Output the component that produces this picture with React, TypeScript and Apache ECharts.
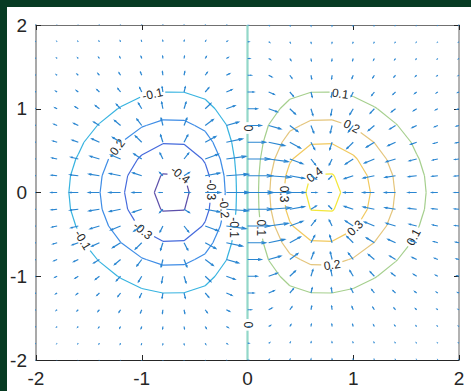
import React, { useEffect, useRef } from "react";
import * as echarts from "echarts";

// ---- data ----
// sample grid (meshgrid -2:0.2:2)
const gridX = [-2, -1.8, -1.6, -1.4, -1.2, -1, -0.8, -0.6, -0.4, -0.2, 0, 0.2, 0.4, 0.6, 0.8, 1, 1.2, 1.4, 1.6, 1.8, 2];
const gridY = [-2, -1.8, -1.6, -1.4, -1.2, -1, -0.8, -0.6, -0.4, -0.2, 0, 0.2, 0.4, 0.6, 0.8, 1, 1.2, 1.4, 1.6, 1.8, 2];
// sampled surface z = x * exp(-x^2 - y^2)
const surface = (x: number, y: number) => x * Math.exp(-x * x - y * y);
// contour levels
const contourLevels = [-0.4, -0.3, -0.2, -0.1, 0, 0.1, 0.2, 0.3, 0.4];
// axis tick values
const axisTicks = [-2, -1, 0, 1, 2];
// contour label texts with their level and anchor (data coords)
const labelLevel = [-0.1, -0.2, -0.4, -0.3, -0.3, -0.1, -0.2, -0.1, 0, 0, 0.1, 0.2, 0.4, 0.3, 0.3, 0.2, 0.1, 0.1];
const labelText = ["-0.1", "-0.2", "-0.4", "-0.3", "-0.3", "-0.1", "-0.2", "-0.1", "0", "0", "0.1", "0.2", "0.4", "0.3", "0.3", "0.2", "0.1", "0.1"];
const labelX = [-0.894, -1.225, -0.638, -0.355, -0.988, -1.556, -0.213, -0.115, 0, 0, 0.875, 0.98, 0.638, 0.345, 1.017, 0.8, 1.565, 0.118];
const labelY = [1.152, 0.507, 0.149, 0.03, -0.448, -0.567, -0.185, -0.42, 0.77, -1.58, 1.164, 0.77, 0.149, -0.02, -0.424, -0.866, -0.53, -0.424];

// ---- styles ----
const levelColors = ["#5d50aa", "#4469dc", "#3d8ce6", "#36b3e0", "#93d8c9", "#a5cf8d", "#e4c57c", "#f1c95e", "#f3e73a"];
const labelRot = [12, 52, -38, -90, -39, -59, -85, -90, -90, -90, -8, -27, 38, -90, 45, 9, 62, -90];
const FONT = "'Liberation Sans', Arial, Helvetica, sans-serif";
const PLOT_W = 423;
const PLOT_H = 335;
const SX = PLOT_W / 4;
const SY = PLOT_H / 4;

type Pt = [number, number];

function buildZ(): number[][] {
  return gridY.map((y) => gridX.map((x) => surface(x, y)));
}

function contourSegments(Z: number[][], level: number): [Pt, Pt][] {
  const segs: [Pt, Pt][] = [];
  for (let j = 0; j < gridY.length - 1; j++) {
    for (let i = 0; i < gridX.length - 1; i++) {
      const c = [
        { x: gridX[i], y: gridY[j], z: Z[j][i] },
        { x: gridX[i + 1], y: gridY[j], z: Z[j][i + 1] },
        { x: gridX[i + 1], y: gridY[j + 1], z: Z[j + 1][i + 1] },
        { x: gridX[i], y: gridY[j + 1], z: Z[j + 1][i] },
      ];
      const pts: (Pt | null)[] = [];
      for (let e = 0; e < 4; e++) {
        const a = c[e];
        const b = c[(e + 1) % 4];
        if (a.z > level !== b.z > level) {
          const t = (level - a.z) / (b.z - a.z);
          pts.push([a.x + t * (b.x - a.x), a.y + t * (b.y - a.y)]);
        } else pts.push(null);
      }
      const found = pts.filter((p) => p) as Pt[];
      if (found.length === 2) segs.push([found[0], found[1]]);
      else if (found.length === 4) {
        const center = (c[0].z + c[1].z + c[2].z + c[3].z) / 4;
        if (center > level === c[0].z > level) {
          segs.push([pts[0]!, pts[1]!]);
          segs.push([pts[2]!, pts[3]!]);
        } else {
          segs.push([pts[3]!, pts[0]!]);
          segs.push([pts[1]!, pts[2]!]);
        }
      }
    }
  }
  return segs;
}

function nearestOnSegs(segs: [Pt, Pt][], x: number, y: number): Pt {
  let best: Pt = [x, y];
  let bestD = Infinity;
  for (const [p, q] of segs) {
    const dx = (q[0] - p[0]) * SX;
    const dy = (q[1] - p[1]) * SY;
    const L = dx * dx + dy * dy;
    let t = L > 0 ? (((x - p[0]) * SX) * dx + ((y - p[1]) * SY) * dy) / L : 0;
    t = Math.max(0, Math.min(1, t));
    const cx = p[0] + t * (q[0] - p[0]);
    const cy = p[1] + t * (q[1] - p[1]);
    const d = ((cx - x) * SX) ** 2 + ((cy - y) * SY) ** 2;
    if (d < bestD) {
      bestD = d;
      best = [cx, cy];
    }
  }
  return best;
}

function textWidth(s: string, fs: number) {
  let w = 0;
  for (const ch of s) w += ch === "." ? 0.278 : ch === "-" ? 0.333 : 0.556;
  return w * fs;
}

function clipSegment(a: Pt, b: Pt, circles: { x: number; y: number; r: number }[]): [Pt, Pt][] {
  let pieces: [Pt, Pt][] = [[a, b]];
  for (const c of circles) {
    const next: [Pt, Pt][] = [];
    for (const [p, q] of pieces) {
      const px = (p[0] - c.x) * SX;
      const py = (p[1] - c.y) * SY;
      const dx = (q[0] - p[0]) * SX;
      const dy = (q[1] - p[1]) * SY;
      const A = dx * dx + dy * dy;
      const B = 2 * (px * dx + py * dy);
      const C = px * px + py * py - c.r * c.r;
      const disc = B * B - 4 * A * C;
      if (A === 0 || disc <= 0) {
        next.push([p, q]);
        continue;
      }
      const s = Math.sqrt(disc);
      const t1 = (-B - s) / (2 * A);
      const t2 = (-B + s) / (2 * A);
      if (t2 <= 0 || t1 >= 1) {
        next.push([p, q]);
        continue;
      }
      const lerp = (t: number): Pt => [p[0] + (q[0] - p[0]) * t, p[1] + (q[1] - p[1]) * t];
      if (t1 > 0) next.push([p, lerp(t1)]);
      if (t2 < 1) next.push([lerp(t2), q]);
    }
    pieces = next;
  }
  return pieces;
}

function buildOption() {
  const Z = buildZ();
  const nx = gridX.length;
  const ny = gridY.length;
  const h = 0.2;
  // gradient (central differences inside, one-sided at edges)
  const DX: number[][] = [];
  const DY: number[][] = [];
  for (let j = 0; j < ny; j++) {
    DX.push([]);
    DY.push([]);
    for (let i = 0; i < nx; i++) {
      let gx: number, gy: number;
      if (i === 0) gx = (Z[j][1] - Z[j][0]) / h;
      else if (i === nx - 1) gx = (Z[j][nx - 1] - Z[j][nx - 2]) / h;
      else gx = (Z[j][i + 1] - Z[j][i - 1]) / (2 * h);
      if (j === 0) gy = (Z[1][i] - Z[0][i]) / h;
      else if (j === ny - 1) gy = (Z[ny - 1][i] - Z[ny - 2][i]) / h;
      else gy = (Z[j + 1][i] - Z[j - 1][i]) / (2 * h);
      DX[j].push(gx);
      DY[j].push(gy);
    }
  }
  // quiver autoscale
  const delx = (gridX[nx - 1] - gridX[0]) / nx;
  const dely = (gridY[ny - 1] - gridY[0]) / ny;
  const del = delx * delx + dely * dely;
  let maxlen = 0;
  for (let j = 0; j < ny; j++)
    for (let i = 0; i < nx; i++) maxlen = Math.max(maxlen, Math.sqrt((DX[j][i] ** 2 + DY[j][i] ** 2) / del));
  const scale = 0.9 / maxlen;
  const alpha = 0.22;
  const beta = 0.35;
  const arrowData: { coords: Pt[] }[] = [];
  for (let j = 0; j < ny; j++) {
    for (let i = 0; i < nx; i++) {
      const x = gridX[i];
      const y = gridY[j];
      const u = DX[j][i] * scale;
      const v = DY[j][i] * scale;
      const tip: Pt = [x + u, y + v];
      arrowData.push({ coords: [[x, y], tip] });
      arrowData.push({
        coords: [
          [x + u - alpha * (u + beta * v), y + v - alpha * (v - beta * u)],
          tip,
          [x + u - alpha * (u - beta * v), y + v - alpha * (v + beta * u)],
        ],
      });
    }
  }

  // contours and labels
  const labelPos: Pt[] = [];
  const series: any[] = [];
  const segsByLevel = contourLevels.map((lv) => contourSegments(Z, lv));
  labelText.forEach((t, k) => {
    const li = contourLevels.findIndex((lv) => Math.abs(lv - labelLevel[k]) < 1e-9);
    labelPos.push(nearestOnSegs(segsByLevel[li], labelX[k], labelY[k]));
  });
  contourLevels.forEach((lv, li) => {
    const circles = labelText
      .map((t, k) => ({ k, t }))
      .filter(({ k }) => Math.abs(labelLevel[k] - lv) < 1e-9)
      .map(({ k, t }) => ({ x: labelPos[k][0], y: labelPos[k][1], r: textWidth(t, 12) / 2 + 2.5 }));
    const data: { coords: Pt[] }[] = [];
    for (const [a, b] of segsByLevel[li]) {
      for (const piece of clipSegment(a, b, circles)) data.push({ coords: piece });
    }
    series.push({
      type: "lines",
      coordinateSystem: "cartesian2d",
      xAxisIndex: 0,
      yAxisIndex: 0,
      polyline: true,
      silent: true,
      clip: true,
      lineStyle: { color: levelColors[li], width: lv === 0 ? 2.2 : 1.2, opacity: 1 },
      data,
      z: 2,
    });
  });

  series.push({
    type: "custom",
    coordinateSystem: "cartesian2d",
    xAxisIndex: 0,
    yAxisIndex: 0,
    silent: true,
    data: labelPos.map((p) => [p[0], p[1]]),
    renderItem: (params: any, api: any) => {
      const k = params.dataIndex;
      const p = api.coord([api.value(0), api.value(1)]);
      return {
        type: "text",
        x: p[0],
        y: p[1],
        rotation: (labelRot[k] * Math.PI) / 180,
        style: {
          text: labelText[k],
          fill: "#262626",
          font: `12px ${FONT}`,
          align: "center",
          verticalAlign: "middle",
        },
      };
    },
    z: 3,
  });

  series.push({
    type: "lines",
    coordinateSystem: "cartesian2d",
    xAxisIndex: 0,
    yAxisIndex: 0,
    polyline: true,
    silent: true,
    clip: true,
    lineStyle: { color: "#2a86d1", width: 1.2, opacity: 1 },
    data: arrowData,
    z: 4,
  });

  const baseX = {
    type: "value",
    min: axisTicks[0],
    max: axisTicks[axisTicks.length - 1],
    interval: 1,
    splitLine: { show: false },
  };
  return {
    animation: false,
    backgroundColor: "#ffffff",
    grid: { left: 29, right: 12, top: 18, bottom: 31, containLabel: false },
    xAxis: [
      {
        ...baseX,
        position: "bottom",
        axisLine: { show: true, onZero: false, lineStyle: { color: "#262626", width: 1 } },
        axisTick: { show: true, inside: true, length: 5, lineStyle: { color: "#262626" } },
        axisLabel: { color: "#262626", fontSize: 19, fontFamily: FONT, margin: 9 },
      },
      {
        ...baseX,
        position: "top",
        axisLine: { show: true, onZero: false, lineStyle: { color: "#707070", width: 1 } },
        axisTick: { show: true, inside: true, length: 5, lineStyle: { color: "#262626" } },
        axisLabel: { show: false },
      },
    ],
    yAxis: [
      {
        ...baseX,
        position: "left",
        axisLine: { show: true, onZero: false, lineStyle: { color: "#8c8c8c", width: 1.5 } },
        axisTick: { show: true, inside: true, length: 5, lineStyle: { color: "#262626" } },
        axisLabel: { color: "#262626", fontSize: 19, fontFamily: FONT, margin: 9 },
      },
      {
        ...baseX,
        position: "right",
        axisLine: { show: true, onZero: false, lineStyle: { color: "#999999", width: 1.5 } },
        axisTick: { show: true, inside: true, length: 5, lineStyle: { color: "#262626" } },
        axisLabel: { show: false },
      },
    ],
    series,
  };
}

export default function App() {
  const ref = useRef<HTMLDivElement>(null);
  useEffect(() => {
    const chart = echarts.init(ref.current!, null, { renderer: "svg" });
    chart.setOption(buildOption() as any);
    return () => chart.dispose();
  }, []);
  return (
    <div style={{ position: "fixed", left: 0, top: 0, width: 471, height: 391, background: "#073b23" }}>
      <div
        ref={ref}
        style={{ position: "absolute", left: 7, top: 7, width: 464, height: 384, background: "#ffffff" }}
      />
    </div>
  );
}
